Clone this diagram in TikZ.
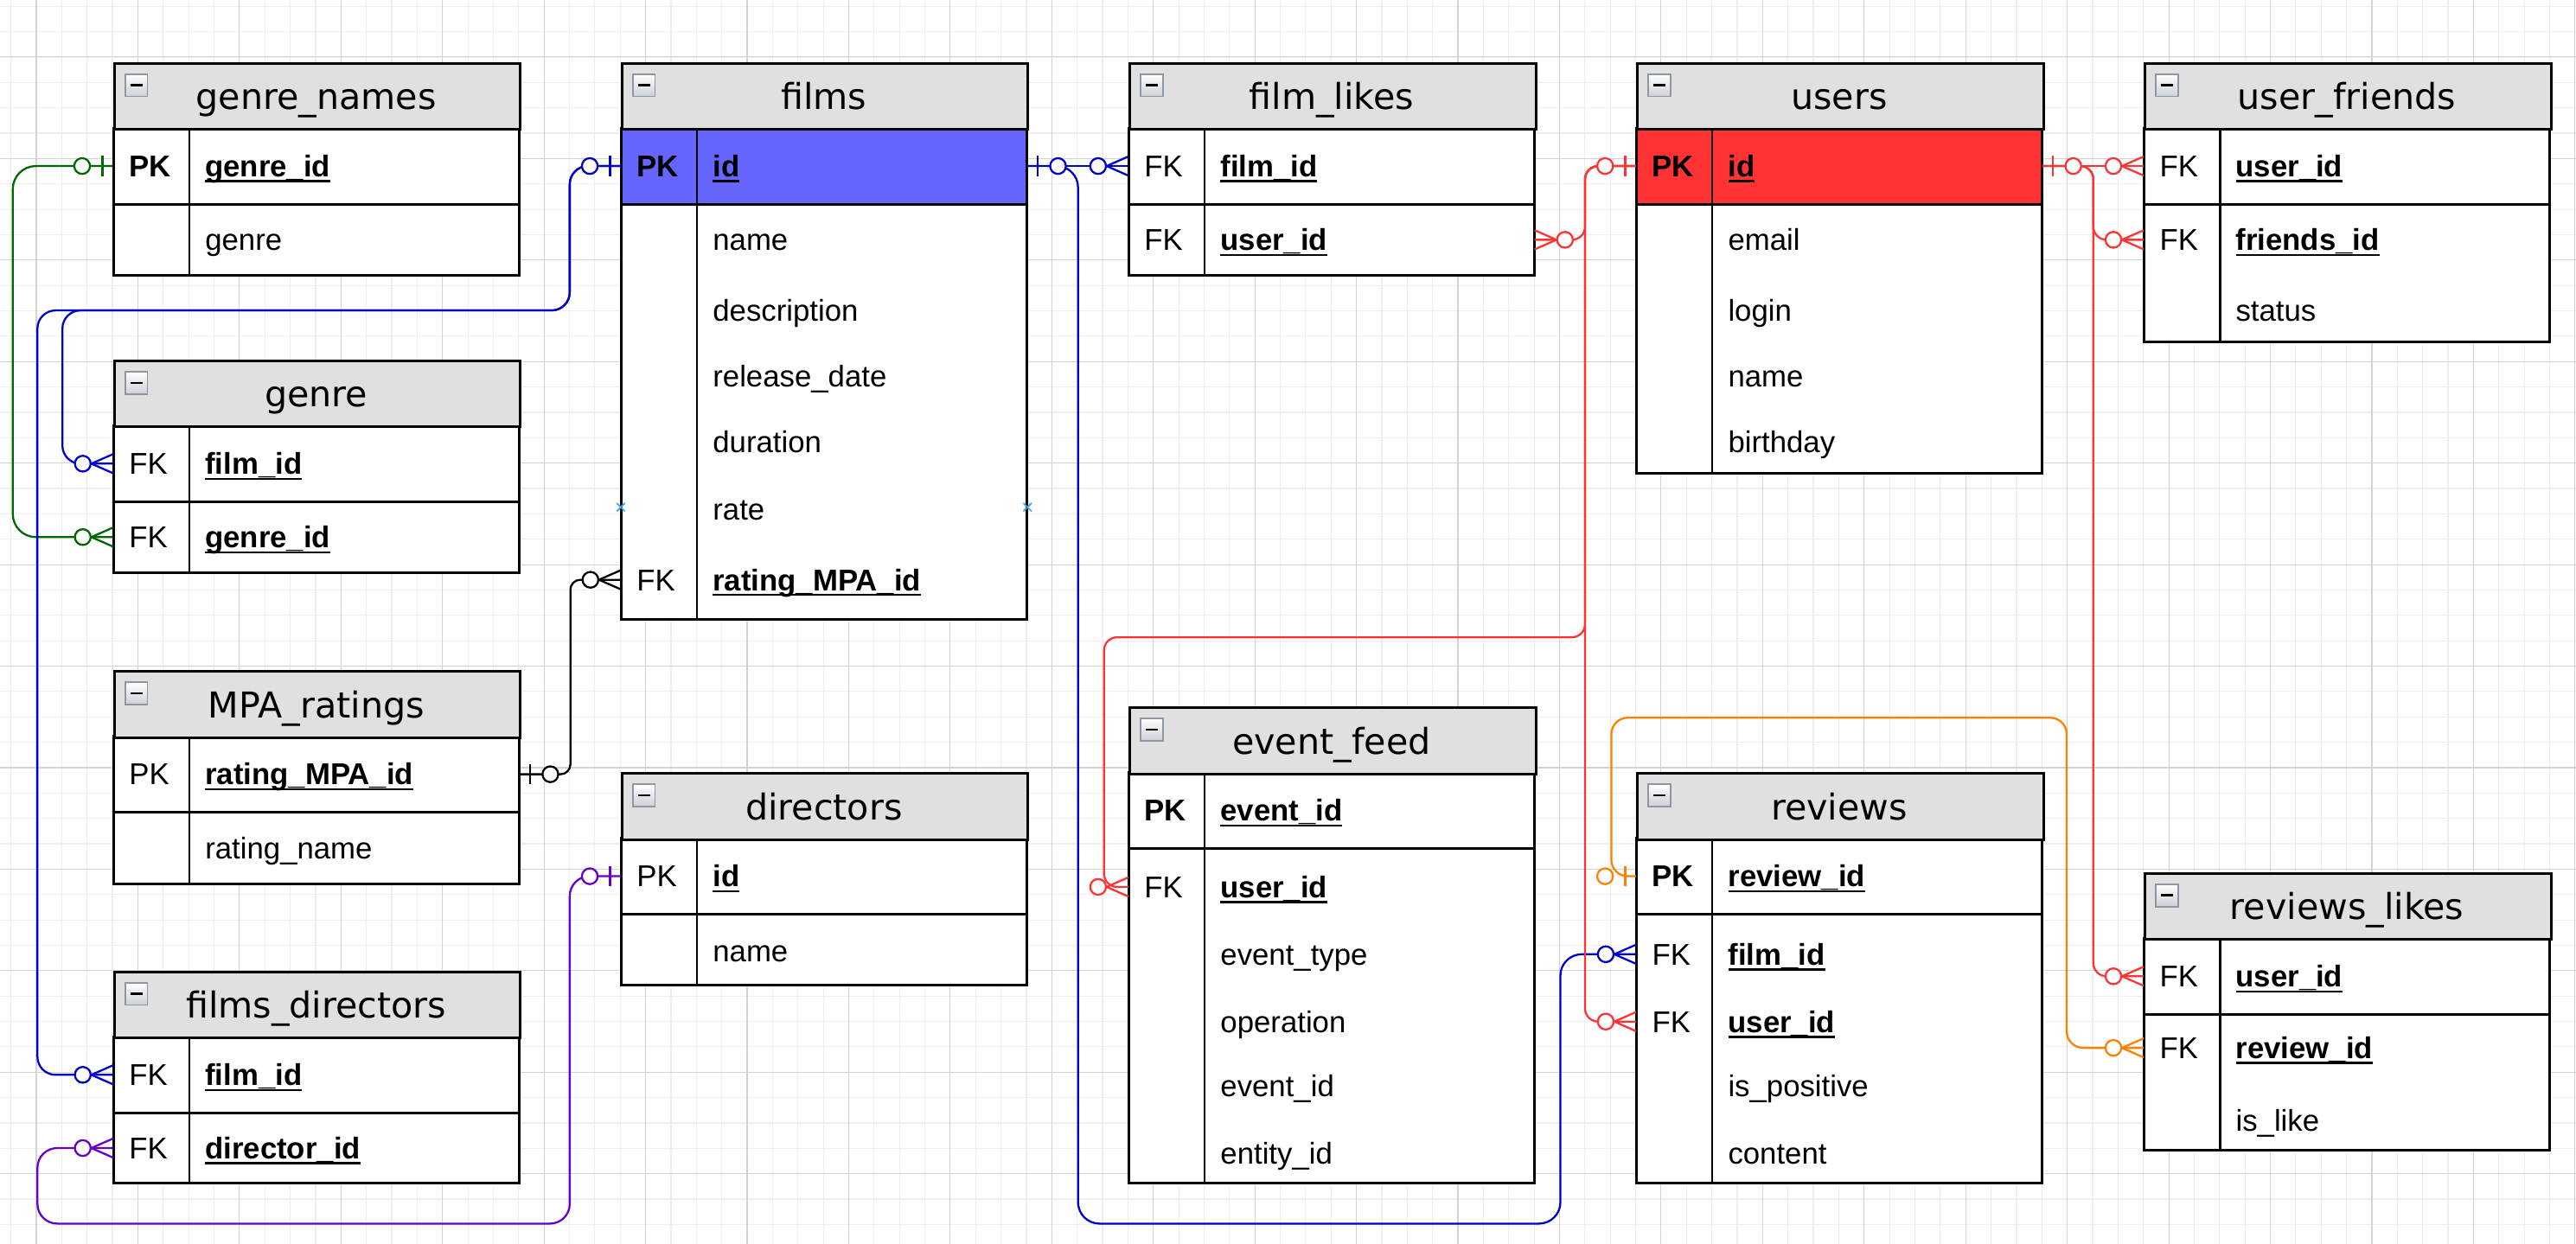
\documentclass[tikz,border=0pt]{standalone}
\usepackage{fontspec}
\setmainfont{Liberation Sans}
\newfontfamily\ttlfont{DejaVu Sans}
\usetikzlibrary{calc}
\definecolor{hdrgray}{HTML}{E0E0E0}
\definecolor{pkblue}{HTML}{6666FF}
\definecolor{pkred}{HTML}{FF3333}
\definecolor{cgreen}{HTML}{006600}
\definecolor{cblue}{HTML}{0000CC}
\definecolor{cred}{HTML}{FF3333}
\definecolor{corange}{HTML}{FF8000}
\definecolor{cpurple}{HTML}{6600CC}
\definecolor{gridmaj}{HTML}{D3D3D3}
\definecolor{gridmin}{HTML}{EEEEEE}
\definecolor{iconbd}{HTML}{8F96A1}
\definecolor{marker}{HTML}{3DA5E0}

\newcommand\fu[1]{\setbox0\hbox{#1}\rlap{\rule[-3.4pt]{\wd0}{1.3pt}}\box0}
\newcommand\bu[1]{\fu{\bfseries #1}}

\tikzset{
  tbl/.style={draw=black, line width=1.6pt},
  hbox/.style={tbl, fill=hdrgray, minimum width=247pt, minimum height=40.3pt, inner sep=0pt, anchor=north west},
  rowbox/.style={minimum width=247pt, minimum height=36pt, inner sep=0pt},
  ttl/.style={font=\ttlfont\fontsize{21.7}{24}\selectfont, inner sep=0pt, anchor=base},
  keyt/.style={font=\fontsize{18.3}{20}\selectfont, inner sep=0pt, anchor=base west},
  fldt/.style={font=\fontsize{18.3}{20}\selectfont, inner sep=0pt, anchor=base west},
  icon/.style={draw=iconbd, line width=0.9pt, top color=white, bottom color=iconbd!45, minimum size=13.5pt, inner sep=0pt},
  conn/.style={line width=1.2pt},
}

% header: id, x, top, title
\newcommand\thead[4]{%
  \node[hbox] (#1-h) at (#2,#3) {};
  \node[ttl] (#1-t) at (#2+123.5,#3+29) {#4};
  \node[icon] (#1-i) at (#2+14,#3+14.2) {};
  \draw[line width=1.4pt] (#2+10.4,#3+14.2) -- (#2+17.6,#3+14.2);
}
% body: x, header bottom, section1 bottom, bottom, fill of first section
\newcommand\tbody[5]{%
  \fill[white] (#1,#2) rectangle (#1+247,#4);
  \fill[#5] (#1,#2) rectangle (#1+247,#3);
  \draw[tbl] (#1,#3) -- (#1+247,#3);
  \draw[tbl, line width=1.3pt] (#1+46.3,#2) -- (#1+46.3,#4);
  \draw[tbl] (#1,#2) rectangle (#1+247,#4);
}
% row: name, x, y centre, key, field
\newcommand\trow[5]{%
  \node[rowbox] (#1) at (#2+123.5,#3) {};
  \if\relax\detokenize{#4}\relax\else
    \node[keyt] (#1-k) at (#2+9.4,#3+6.5) {#4};
  \fi
  \node[fldt] (#1-f) at (#2+55.7,#3+6.5) {#5};
}
% zero-or-one: colour, anchor, direction
\newcommand\zone[3]{%
  \draw[#1, conn] ($(#2)+(#3*6.5,-6.1)$) -- ($(#2)+(#3*6.5,6.1)$);
  \draw[#1, conn, fill=white] ($(#2)+(#3*18.8,0)$) circle[radius=4.8pt];
}
% zero-to-many: colour, anchor, direction
\newcommand\zmany[3]{%
  \draw[#1, conn] ($(#2)+(0,-5.8)$) -- ($(#2)+(#3*13.2,0)$) -- ($(#2)+(0,5.8)$);
  \draw[#1, conn, fill=white] ($(#2)+(#3*18.4,0)$) circle[radius=4.8pt];
}

\begin{document}
\begin{tikzpicture}[x=1pt,y=-1pt]
\useasboundingbox (0,0) rectangle (1568,757.4);
\fill[white] (0,0) rectangle (1568,757.4);
% grid
\foreach \i in {0,...,101} \draw[gridmin, line width=0.6pt] ({6.65+15.4525*\i},0) -- ({6.65+15.4525*\i},757.4);
\foreach \i in {0,...,48} \draw[gridmin, line width=0.6pt] (0,{3.8+15.4525*\i}) -- (1568,{3.8+15.4525*\i});
\foreach \i in {0,...,25} \draw[gridmaj, line width=0.6pt] ({22.1+61.81*\i},0) -- ({22.1+61.81*\i},757.4);
\foreach \i in {0,...,11} \draw[gridmaj, line width=0.6pt] (0,{34.7+61.81*\i}) -- (1568,{34.7+61.81*\i});

% ---------- genre_names
\tbody{69}{78}{124.3}{167.4}{white}
\thead{gn}{69}{37.7}{genre\_names}
\trow{gn-gid}{69}{101.1}{\textbf{PK}}{\bu{genre\_id}}
\trow{gn-genre}{69}{146}{}{genre}
% ---------- genre
\tbody{69}{259.2}{305.5}{348.5}{white}
\thead{g}{69}{218.9}{genre}
\trow{g-film}{69}{282.3}{FK}{\bu{film\_id}}
\trow{g-gid}{69}{327}{FK}{\bu{genre\_id}}
% ---------- MPA_ratings
\tbody{69}{448.3}{494.6}{538}{white}
\thead{mpa}{69}{408}{MPA\_ratings}
\trow{mpa-rid}{69}{471.4}{PK}{\bu{rating\_MPA\_id}}
\trow{mpa-rname}{69}{516.5}{}{rating\_name}
% ---------- films_directors
\tbody{69}{631.3}{677.6}{720.5}{white}
\thead{fd}{69}{591}{films\_directors}
\trow{fd-film}{69}{654.4}{FK}{\bu{film\_id}}
\trow{fd-dir}{69}{699}{FK}{\bu{director\_id}}
% ---------- films
\tbody{378}{78}{124.3}{377.3}{pkblue}
\thead{f}{378}{37.7}{films}
\trow{f-id}{378}{101.1}{\textbf{PK}}{\bu{id}}
\trow{f-name}{378}{146}{}{name}
\trow{f-desc}{378}{189}{}{description}
\trow{f-rel}{378}{229}{}{release\_date}
\trow{f-dur}{378}{269}{}{duration}
\trow{f-rate}{378}{310}{}{rate}
\trow{f-rmpa}{378}{353}{FK}{\bu{rating\_MPA\_id}}
% ---------- directors
\tbody{378}{510.3}{556.6}{600}{white}
\thead{d}{378}{470}{directors}
\trow{d-id}{378}{533.5}{PK}{\bu{id}}
\trow{d-name}{378}{579}{}{name}
% ---------- film_likes
\tbody{687}{78}{124.3}{167.4}{white}
\thead{fl}{687}{37.7}{film\_likes}
\trow{fl-film}{687}{101.1}{FK}{\bu{film\_id}}
\trow{fl-user}{687}{146}{FK}{\bu{user\_id}}
% ---------- event_feed
\tbody{687}{470.3}{516.6}{720.5}{white}
\thead{ef}{687}{430}{event\_feed}
\trow{ef-eid}{687}{493.5}{\textbf{PK}}{\bu{event\_id}}
\trow{ef-user}{687}{540}{FK}{\bu{user\_id}}
\trow{ef-type}{687}{581}{}{event\_type}
\trow{ef-op}{687}{622}{}{operation}
\trow{ef-eid2}{687}{661}{}{event\_id}
\trow{ef-ent}{687}{702}{}{entity\_id}
% ---------- users
\tbody{996}{78}{124.3}{288}{pkred}
\thead{u}{996}{37.7}{users}
\trow{u-id}{996}{101.1}{\textbf{PK}}{\bu{id}}
\trow{u-email}{996}{146}{}{email}
\trow{u-login}{996}{189}{}{login}
\trow{u-name}{996}{229}{}{name}
\trow{u-bday}{996}{269}{}{birthday}
% ---------- user_friends
\tbody{1305}{78}{124.3}{208}{white}
\thead{uf}{1305}{37.7}{user\_friends}
\trow{uf-user}{1305}{101.1}{FK}{\bu{user\_id}}
\trow{uf-fr}{1305}{146}{FK}{\bu{friends\_id}}
\trow{uf-status}{1305}{189}{}{status}
% ---------- reviews
\tbody{996}{510.3}{556.6}{720.5}{white}
\thead{rv}{996}{470}{reviews}
\trow{rv-rid}{996}{533.5}{\textbf{PK}}{\bu{review\_id}}
\trow{rv-film}{996}{581}{FK}{\bu{film\_id}}
\trow{rv-user}{996}{622}{FK}{\bu{user\_id}}
\trow{rv-pos}{996}{661}{}{is\_positive}
\trow{rv-content}{996}{702}{}{content}
% ---------- reviews_likes
\tbody{1305}{571.3}{617.6}{700.5}{white}
\thead{rl}{1305}{531}{reviews\_likes}
\trow{rl-user}{1305}{594.4}{FK}{\bu{user\_id}}
\trow{rl-rid}{1305}{638}{FK}{\bu{review\_id}}
\trow{rl-like}{1305}{682}{}{is\_like}

% small connection markers on films
\draw[marker, line width=0.9pt] (375.4,306.3) -- (380.4,311.3) (375.4,311.3) -- (380.4,306.3);
\draw[marker, line width=0.9pt] (622.9,306.3) -- (627.9,311.3) (622.9,311.3) -- (627.9,306.3);

% ---------- connectors
\draw[conn, cgreen, rounded corners=14pt] (gn-gid.west) -- ++(-61,0) |- (g-gid.west);
\draw[conn, cblue, rounded corners=11pt] (f-id.west) -- ++(-31,0) |- (38,189) |- (g-film.west);
\draw[conn, cblue, rounded corners=11pt] (f-id.west) -- ++(-31,0) |- (22.8,189) |- (fd-film.west);
\draw[conn, cblue] (f-id.east) -- (fl-film.west);
\draw[conn, cblue, rounded corners=13pt] (f-id.east) -- ++(31,0) |- (949.8,745) |- (rv-film.west);
\draw[conn, cred, rounded corners=8pt] (u-id.west) -- ++(-31,0) |- (fl-user.east);
\draw[conn, cred, rounded corners=8pt] (u-id.west) -- ++(-31,0) |- (672,388) |- (ef-user.west);
\draw[conn, cred, rounded corners=8pt] (u-id.west) -- ++(-31,0) |- (rv-user.west);
\draw[conn, cred] (u-id.east) -- (uf-user.west);
\draw[conn, cred, rounded corners=8pt] (u-id.east) -- ++(31,0) |- (uf-fr.west);
\draw[conn, cred, rounded corners=8pt] (u-id.east) -- ++(31,0) |- (rl-user.west);
\draw[conn, corange, rounded corners=10pt] (rv-rid.west) -- ++(-15,0) |- (1258,437) |- (rl-rid.west);
\draw[conn, cpurple, rounded corners=12pt] (d-id.west) -- ++(-31,0) |- (22.8,745) |- (fd-dir.west);
\draw[conn, black, rounded corners=6pt] (mpa-rid.east) -- ++(31,0) |- (f-rmpa.west);

% ---------- end symbols
\zone{cgreen}{gn-gid.west}{-1}
\zmany{cgreen}{g-gid.west}{-1}
\zone{cblue}{f-id.west}{-1}
\zmany{cblue}{g-film.west}{-1}
\zmany{cblue}{fd-film.west}{-1}
\zone{cblue}{f-id.east}{1}
\zmany{cblue}{fl-film.west}{-1}
\zmany{cblue}{rv-film.west}{-1}
\zone{cred}{u-id.west}{-1}
\zmany{cred}{fl-user.east}{1}
\zmany{cred}{ef-user.west}{-1}
\zmany{cred}{rv-user.west}{-1}
\zone{cred}{u-id.east}{1}
\zmany{cred}{uf-user.west}{-1}
\zmany{cred}{uf-fr.west}{-1}
\zmany{cred}{rl-user.west}{-1}
\zone{corange}{rv-rid.west}{-1}
\zmany{corange}{rl-rid.west}{-1}
\zone{cpurple}{d-id.west}{-1}
\zmany{cpurple}{fd-dir.west}{-1}
\zone{black}{mpa-rid.east}{1}
\zmany{black}{f-rmpa.west}{-1}
\end{tikzpicture}
\end{document}
